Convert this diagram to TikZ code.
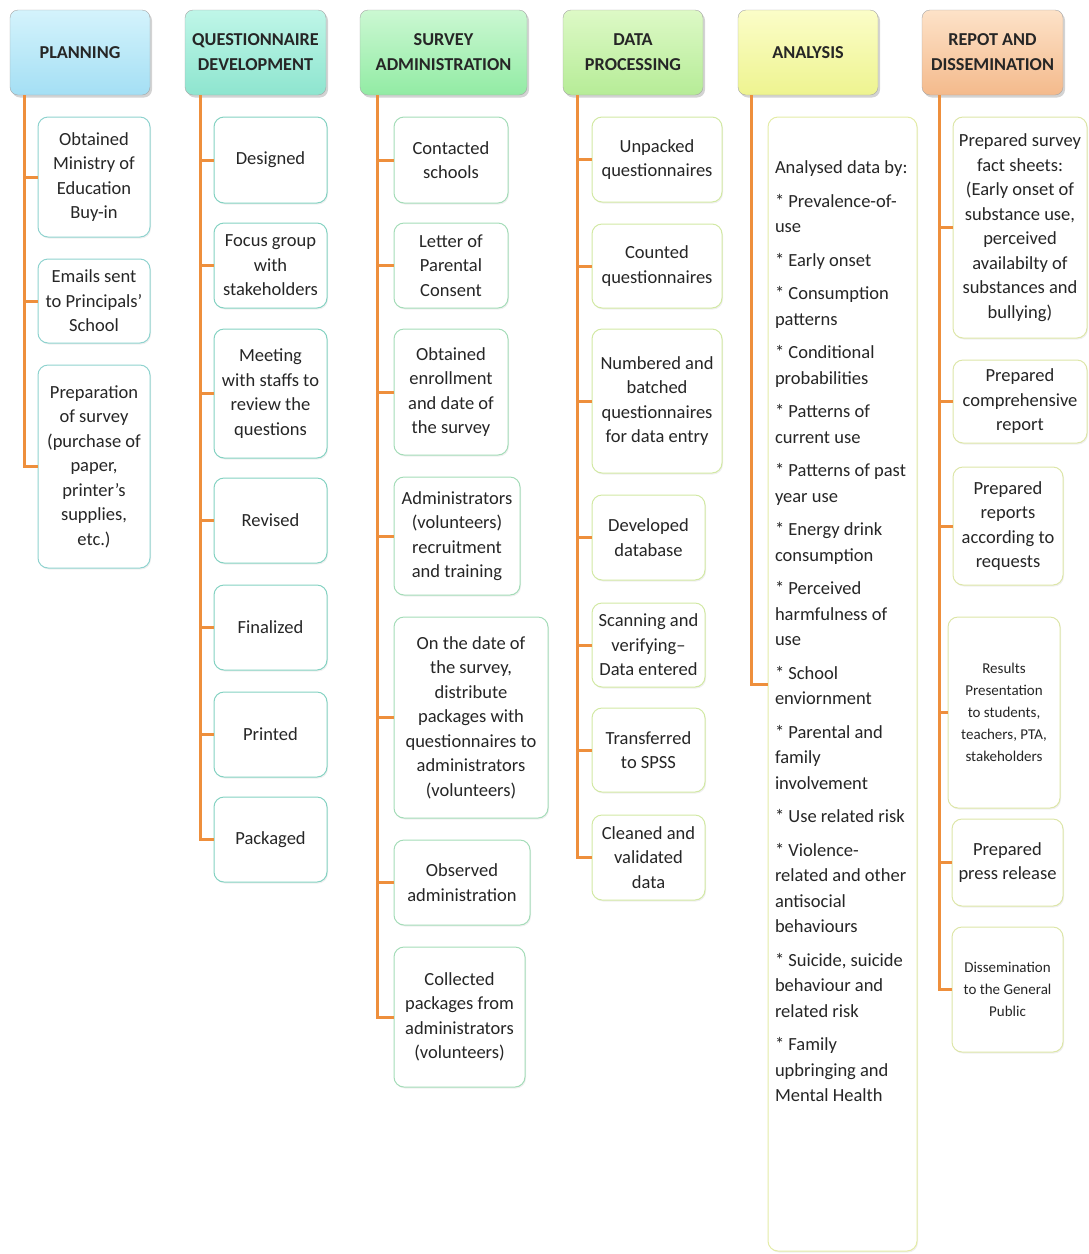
\documentclass[tikz,border=0pt]{standalone}
\usepackage{fontspec}
\setmainfont{Carlito}
\usetikzlibrary{positioning,calc,shadows}
\newcommand{\kidsize}{\fontsize{18.5}{24.5}\selectfont}
\newcommand{\listsize}{\fontsize{18.5}{25.5}\selectfont}
\newcommand{\tinykid}{\fontsize{15}{22}\selectfont}
\newcommand{\headsize}{\fontsize{18.2}{25}\selectfont\bfseries}
\definecolor{linkor}{HTML}{EE8F3C}
\definecolor{planTop}{HTML}{D4F3FC}\definecolor{planBot}{HTML}{A4DFF4}
\definecolor{qdTop}{HTML}{BFF6E8}\definecolor{qdBot}{HTML}{8EE5CF}
\definecolor{saTop}{HTML}{CBF8D2}\definecolor{saBot}{HTML}{92EBA4}
\definecolor{dpTop}{HTML}{DDF9C6}\definecolor{dpBot}{HTML}{B6EC97}
\definecolor{anTop}{HTML}{FBFDC8}\definecolor{anBot}{HTML}{EEF490}
\definecolor{rdTop}{HTML}{FDE2C8}\definecolor{rdBot}{HTML}{F4BA8C}
\definecolor{plankid}{HTML}{8FD3CF}
\definecolor{qdkid}{HTML}{84D2C2}
\definecolor{sakid}{HTML}{A4DCB8}
\definecolor{dpkid}{HTML}{D2E9A4}
\definecolor{ankid}{HTML}{E4ECA6}
\definecolor{rdkid}{HTML}{DDE6A8}

\begin{document}
\begin{tikzpicture}[x=1pt, y=-1pt,
  head/.style={draw=black!35, rounded corners=8pt, align=center,
    font=\headsize, text=black!85, minimum width=140pt, minimum height=85pt,
    drop shadow={shadow xshift=2pt, shadow yshift=-2.5pt, opacity=0.35}},
  box/.style={draw=#1, line width=1pt, rounded corners=10pt, fill=white,
    text=black!85, inner sep=2pt,
    drop shadow={shadow xshift=1pt, shadow yshift=-1.5pt, opacity=0.12}},
  kid/.style={box=#1, align=center, font=\kidsize},
  link/.style={draw=linkor, line width=3pt}
]
\useasboundingbox (0,0) rectangle (1088,1254);

% column heads
\node[head, top color=planTop, bottom color=planBot] (plan) at (80,52.5) {PLANNING};
\node[head, top color=qdTop, bottom color=qdBot, minimum width=141pt] (quest) at (255.5,52.5) {QUESTIONNAIRE\\DEVELOPMENT};
\node[head, top color=saTop, bottom color=saBot, minimum width=167pt] (survey) at (443.5,52.5) {SURVEY\\ADMINISTRATION};
\node[head, top color=dpTop, bottom color=dpBot] (dataproc) at (633,52.5) {DATA\\PROCESSING};
\node[head, top color=anTop, bottom color=anBot] (analysis) at (808,52.5) {ANALYSIS};
\node[head, top color=rdTop, bottom color=rdBot, minimum width=141pt] (report) at (992.5,52.5) {REPOT AND\\DISSEMINATION};

% planning
\node[kid=plankid, minimum width=112pt, minimum height=120pt] (pl1) at (94,177) {Obtained\\Ministry of\\Education\\Buy-in};
\node[kid=plankid, minimum width=112pt, minimum height=84pt] (pl2) at (94,301) {Emails sent\\to Principals'\\School};
\node[kid=plankid, minimum width=112pt, minimum height=203pt] (pl3) at (94,466.5) {Preparation\\of survey\\(purchase of\\paper,\\printer's\\supplies,\\etc.)};

% questionnaire development
\node[kid=qdkid, minimum width=113pt, minimum height=86pt] (qd1) at (270.5,160) {Designed};
\node[kid=qdkid, minimum width=113pt, minimum height=85pt] (qd2) at (270.5,265.5) {Focus group\\with\\stakeholders};
\node[kid=qdkid, minimum width=113pt, minimum height=129pt] (qd3) at (270.5,393.5) {Meeting\\with staffs to\\review the\\questions};
\node[kid=qdkid, minimum width=113pt, minimum height=85pt] (qd4) at (270.5,520.5) {Revised};
\node[kid=qdkid, minimum width=113pt, minimum height=85pt] (qd5) at (270.5,627.5) {Finalized};
\node[kid=qdkid, minimum width=113pt, minimum height=85pt] (qd6) at (270.5,734.5) {Printed};
\node[kid=qdkid, minimum width=113pt, minimum height=85pt] (qd7) at (270.5,839.5) {Packaged};

% survey administration
\node[kid=sakid, minimum width=114pt, minimum height=86pt] (sa1) at (451,160) {Contacted\\schools};
\node[kid=sakid, minimum width=114pt, minimum height=85pt] (sa2) at (451,265.5) {Letter of\\Parental\\Consent};
\node[kid=sakid, minimum width=114pt, minimum height=126pt] (sa3) at (451,392) {Obtained\\enrollment\\and date of\\the survey};
\node[kid=sakid, minimum width=126pt, minimum height=118pt] (sa4) at (457,536) {Administrators\\(volunteers)\\recruitment\\and training};
\node[kid=sakid, minimum width=154pt, minimum height=201pt] (sa5) at (471,717.5) {On the date of\\the survey,\\distribute\\packages with\\questionnaires to\\administrators\\(volunteers)};
\node[kid=sakid, minimum width=136pt, minimum height=85pt] (sa6) at (462,882.5) {Observed\\administration};
\node[kid=sakid, minimum width=131pt, minimum height=140pt] (sa7) at (459.5,1017) {Collected\\packages from\\administrators\\(volunteers)};

% data processing
\node[kid=dpkid, minimum width=130pt, minimum height=85pt] (dp1) at (657,159.5) {Unpacked\\questionnaires};
\node[kid=dpkid, minimum width=130pt, minimum height=84pt] (dp2) at (657,266) {Counted\\questionnaires};
\node[kid=dpkid, minimum width=130pt, minimum height=144pt] (dp3) at (657,401) {Numbered and\\batched\\questionnaires\\for data entry};
\node[kid=dpkid, minimum width=113pt, minimum height=85pt] (dp4) at (648.5,537.5) {Developed\\database};
\node[kid=dpkid, minimum width=113pt, minimum height=84pt] (dp5) at (648.5,645) {Scanning and\\verifying--\\Data entered};
\node[kid=dpkid, minimum width=113pt, minimum height=84pt] (dp6) at (648.5,750) {Transferred\\to SPSS};
\node[kid=dpkid, minimum width=113pt, minimum height=85pt] (dp7) at (648.5,857.5) {Cleaned and\\validated\\data};

% analysis
\node[box=ankid, inner sep=0pt, minimum width=149pt, font=\listsize] (an1) at (842.5,684) {\parbox[c][1134pt][t]{135pt}{\raggedright\vspace*{44pt}%
Analysed data by:\\[8pt]
* Prevalence-of-\\use\\[8pt]
* Early onset\\[8pt]
* Consumption\\patterns\\[8pt]
* Conditional\\probabilities\\[8pt]
* Patterns of\\current use\\[8pt]
* Patterns of past\\year use\\[8pt]
* Energy drink\\consumption\\[8pt]
* Perceived\\harmfulness of\\use\\[8pt]
* School\\enviornment\\[8pt]
* Parental and\\family\\involvement\\[8pt]
* Use related risk\\[8pt]
* Violence-\\related and other\\antisocial\\behaviours\\[8pt]
* Suicide, suicide\\behaviour and\\related risk\\[8pt]
* Family\\upbringing and\\Mental Health}};

% report and dissemination
\node[kid=rdkid, minimum width=134pt, minimum height=221pt] (rd1) at (1020,227.5) {Prepared survey\\fact sheets:\\(Early onset of\\substance use,\\perceived\\availabilty of\\substances and\\bullying)};
\node[kid=rdkid, minimum width=134pt, minimum height=83pt] (rd2) at (1020,401.5) {Prepared\\comprehensive\\report};
\node[kid=rdkid, minimum width=110pt, minimum height=118pt] (rd3) at (1008,526) {Prepared\\reports\\according to\\requests};
\node[kid=rdkid, minimum width=112pt, minimum height=191pt, font=\tinykid] (rd4) at (1004,712.5) {Results\\Presentation\\to students,\\teachers, PTA,\\stakeholders};
\node[kid=rdkid, minimum width=111pt, minimum height=87pt] (rd5) at (1007.5,862.5) {Prepared\\press release};
\node[kid=rdkid, minimum width=111pt, minimum height=125pt, font=\tinykid] (rd6) at (1007.5,989.5) {Dissemination\\to the General\\Public};

% spines
\coordinate (plansp) at ($(plan.south west)+(15,0)$);
\coordinate (questsp) at ($(quest.south west)+(16,0)$);
\coordinate (surveysp) at ($(survey.south west)+(18,0)$);
\coordinate (datasp) at ($(dataproc.south west)+(15,0)$);
\coordinate (anasp) at ($(analysis.south west)+(14,0)$);
\coordinate (repsp) at ($(report.south west)+(18,0)$);

\foreach \k in {pl1,pl2,pl3} \draw[link] (plansp) |- (\k.west);
\foreach \k in {qd1,qd2,qd3,qd4,qd5,qd6,qd7} \draw[link] (questsp) |- (\k.west);
\foreach \k in {sa1,sa2,sa3,sa4,sa5,sa6,sa7} \draw[link] (surveysp) |- (\k.west);
\foreach \k in {dp1,dp2,dp3,dp4,dp5,dp6,dp7} \draw[link] (datasp) |- (\k.west);
\draw[link] (anasp) |- (an1.west);
\foreach \k in {rd1,rd2,rd3,rd4,rd5,rd6} \draw[link] (repsp) |- (\k.west);
\end{tikzpicture}
\end{document}
